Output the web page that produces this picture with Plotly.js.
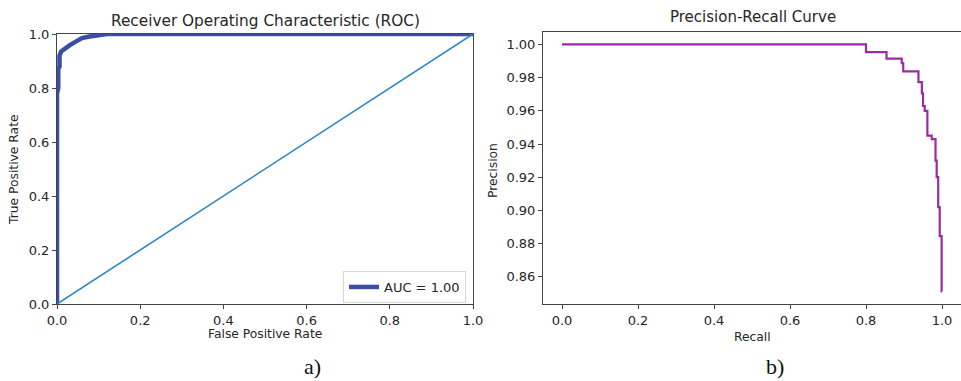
<!DOCTYPE html>
<html>
<head>
<meta charset="utf-8">
<script src="https://cdn.plot.ly/plotly-3.0.1.min.js"></script>
<style>
  html, body { margin: 0; padding: 0; background: #fff; }
  #chart { width: 961px; height: 381px; }
</style>
</head>
<body>
<div id="chart"></div>
<script>
// ROC curve (false positive rate vs true positive rate)
const rocFpr = [0, 0, 0.003, 0.003, 0.006, 0.006, 0.010, 0.015, 0.022, 0.030, 0.040, 0.050, 0.060, 0.075, 0.095, 0.120, 1.0];
const rocTpr = [0, 0.78, 0.80, 0.87, 0.88, 0.92, 0.935, 0.942, 0.950, 0.958, 0.967, 0.977, 0.985, 0.990, 0.995, 1.0, 1.0];
const aucLabel = 'AUC = 1.00';

// chance diagonal
const chanceFpr = [0, 1];
const chanceTpr = [0, 1];

// precision-recall curve (step-wise)
const prRecall = [0, 0.800, 0.854, 0.894, 0.898, 0.938, 0.947, 0.950, 0.9545, 0.9615, 0.973, 0.983, 0.986, 0.990, 0.994, 0.999, 1.000];
const prPrecision = [1.000, 0.9954, 0.9914, 0.9888, 0.9838, 0.9773, 0.9705, 0.9629, 0.960, 0.945, 0.943, 0.930, 0.920, 0.902, 0.8845, 0.8512, 0.8512];

// tick positions
const rocTicks = [0, 0.2, 0.4, 0.6, 0.8, 1.0];
const recallTicks = [0, 0.2, 0.4, 0.6, 0.8, 1.0];
const precisionTicks = [0.86, 0.88, 0.90, 0.92, 0.94, 0.96, 0.98, 1.00];

// text
const rocTitle = 'Receiver Operating Characteristic (ROC)';
const rocXTitle = 'False Positive Rate';
const rocYTitle = 'True Positive Rate';
const prTitle = 'Precision-Recall Curve';
const prXTitle = 'Recall';
const prYTitle = 'Precision';
const panelLabels = ['a)', 'b)'];

const W = 961, H = 381;
const px = v => v / W;
const py = v => 1 - v / H;

const txt = '#262626';
const font = 'DejaVu Sans, sans-serif';

const traces = [
  {
    x: rocFpr, y: rocTpr, type: 'scatter', mode: 'lines',
    name: aucLabel, xaxis: 'x', yaxis: 'y',
    line: { color: '#3a4ea6', width: 4.5 },
    showlegend: true
  },
  {
    x: chanceFpr, y: chanceTpr, type: 'scatter', mode: 'lines',
    xaxis: 'x', yaxis: 'y',
    line: { color: '#2e86c8', width: 1.6 },
    showlegend: false
  },
  {
    x: prRecall, y: prPrecision, type: 'scatter', mode: 'lines',
    xaxis: 'x2', yaxis: 'y2',
    line: { color: '#9a2ca3', width: 2.2, shape: 'hv' },
    showlegend: false
  }
];

const axisCommon = {
  showgrid: false, zeroline: false, showline: true, mirror: true,
  linecolor: '#444', linewidth: 1,
  ticks: 'outside', ticklen: 4, tickcolor: '#444', tickwidth: 1,
  tickfont: { family: font, size: 13, color: txt },
  fixedrange: true
};

const annFont = (s) => ({ family: font, size: s, color: txt });

const layout = {
  width: W, height: H,
  margin: { l: 0, r: 0, t: 0, b: 0 },
  paper_bgcolor: '#fff', plot_bgcolor: '#fff',
  showlegend: true,
  legend: {
    x: px(466), y: py(287), xanchor: 'right', yanchor: 'middle',
    bgcolor: 'rgba(255,255,255,0.9)', bordercolor: '#d6d6d6', borderwidth: 1,
    font: { family: font, size: 13, color: txt },
    itemwidth: 30
  },
  xaxis: Object.assign({}, axisCommon, {
    domain: [px(57), px(473)], range: [0, 1],
    tickvals: rocTicks, tickformat: '.1f', anchor: 'y'
  }),
  yaxis: Object.assign({}, axisCommon, {
    domain: [py(304), py(34)], range: [0, 1],
    tickvals: rocTicks, tickformat: '.1f', anchor: 'x'
  }),
  xaxis2: Object.assign({}, axisCommon, {
    domain: [px(543), 1], range: [-0.05, 1.05],
    tickvals: recallTicks, tickformat: '.1f', anchor: 'y2'
  }),
  yaxis2: Object.assign({}, axisCommon, {
    domain: [py(304), py(32)], range: [0.8436, 1.0075],
    tickvals: precisionTicks, tickformat: '.2f', anchor: 'x2'
  }),
  annotations: [
    { text: rocTitle, x: px(265), y: py(21), xref: 'paper', yref: 'paper',
      xanchor: 'center', yanchor: 'middle', showarrow: false, font: annFont(15.3) },
    { text: prTitle, x: px(753), y: py(17), xref: 'paper', yref: 'paper',
      xanchor: 'center', yanchor: 'middle', showarrow: false, font: annFont(15) },
    { text: rocXTitle, x: px(265), y: py(334), xref: 'paper', yref: 'paper',
      xanchor: 'center', yanchor: 'middle', showarrow: false, font: annFont(12.3) },
    { text: prXTitle, x: px(752), y: py(337), xref: 'paper', yref: 'paper',
      xanchor: 'center', yanchor: 'middle', showarrow: false, font: annFont(12.3) },
    { text: rocYTitle, x: px(14), y: py(170), xref: 'paper', yref: 'paper',
      xanchor: 'center', yanchor: 'middle', textangle: -90, showarrow: false, font: annFont(12.3) },
    { text: prYTitle, x: px(493), y: py(170), xref: 'paper', yref: 'paper',
      xanchor: 'center', yanchor: 'middle', textangle: -90, showarrow: false, font: annFont(12.3) },
    { text: panelLabels[0], x: px(312), y: py(366), xref: 'paper', yref: 'paper',
      xanchor: 'center', yanchor: 'middle', showarrow: false,
      font: { family: 'Liberation Serif, Times New Roman, serif', size: 22, color: '#111' } },
    { text: panelLabels[1], x: px(775), y: py(366), xref: 'paper', yref: 'paper',
      xanchor: 'center', yanchor: 'middle', showarrow: false,
      font: { family: 'Liberation Serif, Times New Roman, serif', size: 22, color: '#111' } }
  ]
};

Plotly.newPlot('chart', traces, layout, { displayModeBar: false, staticPlot: true });
</script>
</body>
</html>
